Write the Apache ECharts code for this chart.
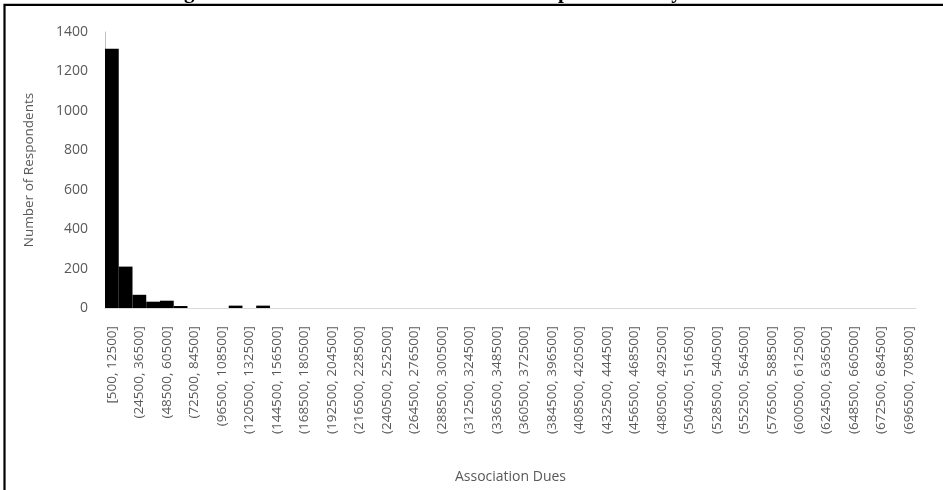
<!DOCTYPE html>
<html>
<head>
<meta charset="utf-8">
<script src="https://cdn.jsdelivr.net/npm/echarts@6/dist/echarts.min.js"></script>
<style>
  html, body { margin: 0; padding: 0; background: #ffffff; }
  #chart { width: 943px; height: 490px; }
</style>
</head>
<body>
<div id="chart"></div>
<script>
// Histogram bins of association dues (width 12000, starting at 500)
const binStarts = [];
for (let k = 0; k < 59; k++) binStarts.push(500 + 12000 * k);
const categories = binStarts.map((s, i) =>
  i === 0 ? '[' + s + ', ' + (s + 12000) + ']' : '(' + s + ', ' + (s + 12000) + ']'
);

// Respondent counts per bin
const counts = [
  1315, 210, 67, 32, 37, 10, 0, 0, 0, 12,
  0, 12, 0, 0, 0, 0, 0, 0, 0, 0,
  0, 0, 0, 0, 0, 0, 0, 0, 0, 0,
  0, 0, 0, 0, 0, 0, 0, 0, 0, 0,
  0, 0, 0, 0, 0, 0, 0, 0, 0, 0,
  0, 0, 0, 0, 0, 0, 0, 0, 0
];

const titleText = 'Figure 12: Distribution of Association Dues per Month by Household';
const yTicks = [0, 200, 400, 600, 800, 1000, 1200, 1400];

const labelFont = '"Open Sans", "Noto Sans", sans-serif';
const chart = echarts.init(document.getElementById('chart'), null, { renderer: 'canvas' });

chart.setOption({
  animation: false,
  backgroundColor: '#ffffff',
  graphic: [
    {
      // heading sits above the frame; only its descenders fall inside the page
      type: 'text',
      x: 474,
      y: 2.6,
      z: 10,
      style: {
        text: titleText,
        font: 'bold 21px "Liberation Serif", "Times New Roman", serif',
        fill: '#000000',
        align: 'center',
        verticalAlign: 'bottom'
      }
    },
    {
      type: 'rect',
      z: 11,
      shape: { x: 4.5, y: 4.8, width: 1100, height: 1100 },
      style: { fill: null, stroke: '#000000', lineWidth: 2.2 }
    }
  ],
  grid: { left: 105, right: 27, top: 32, bottom: 182 },
  xAxis: {
    type: 'category',
    data: categories,
    name: 'Association Dues',
    nameLocation: 'middle',
    nameGap: 162,
    nameTextStyle: { color: '#595959', fontSize: 14, fontFamily: labelFont },
    axisLine: { show: true, lineStyle: { color: '#d9d9d9', width: 1 } },
    axisTick: { show: false },
    axisLabel: {
      interval: 1,
      rotate: 90,
      margin: 18,
      color: '#595959',
      fontSize: 13.5,
      fontFamily: labelFont
    },
    splitLine: { show: false }
  },
  yAxis: {
    type: 'value',
    min: 0,
    max: yTicks[yTicks.length - 1],
    interval: 200,
    name: 'Number of Respondents',
    nameLocation: 'middle',
    nameGap: 69,
    nameTextStyle: { color: '#595959', fontSize: 13.5, fontFamily: labelFont },
    axisLine: { show: true, lineStyle: { color: '#bfbfbf', width: 1 } },
    axisTick: { show: false },
    axisLabel: {
      margin: 17,
      color: '#595959',
      fontSize: 14,
      fontFamily: labelFont,
      formatter: v => String(v)
    },
    splitLine: { show: false }
  },
  series: [{
    type: 'bar',
    data: counts,
    barCategoryGap: '0%',
    itemStyle: { color: '#000000' }
  }]
});
</script>
</body>
</html>
